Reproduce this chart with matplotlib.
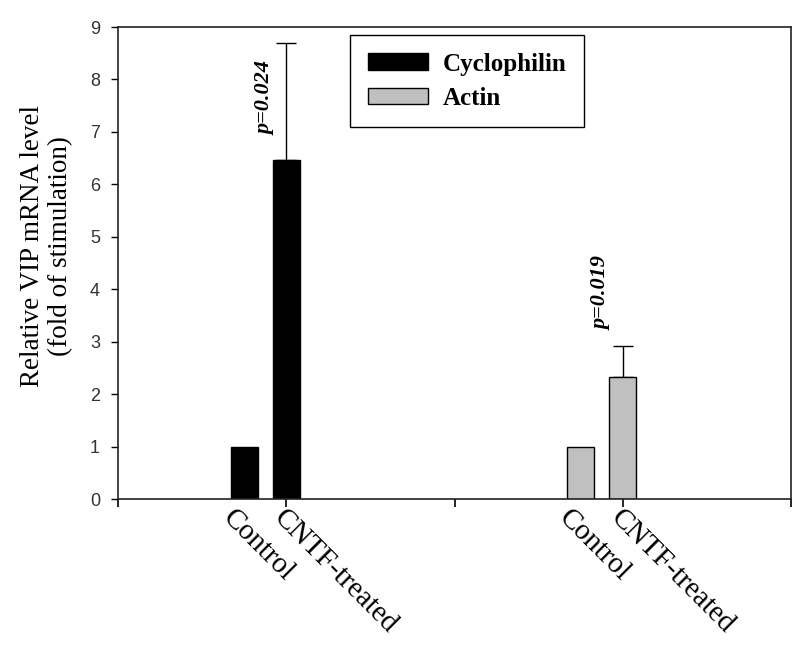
import matplotlib
matplotlib.use("Agg")
import matplotlib.pyplot as plt
from matplotlib.patches import Patch
import numpy as np

genes = ["Cyclophilin", "Actin"]
conditions = ["Control", "CNTF-treated"]
values = {"Cyclophilin": [1.0, 6.47], "Actin": [1.0, 2.33]}
errors = {"Cyclophilin": [0.0, 2.23], "Actin": [0.0, 0.59]}
pvalues = {"Cyclophilin": "p=0.024", "Actin": "p=0.019"}
pval_y = {"Cyclophilin": 6.95, "Actin": 3.22}
colors = {"Cyclophilin": "#000000", "Actin": "#c0c0c0"}
yticks = list(range(0, 10))

fig = plt.figure(figsize=(8.0, 6.46), dpi=100)
ax = fig.add_axes([118/800, (646-499)/646, (791-118)/800, (499-27)/646])

serif = "Liberation Serif"
offsets = [-0.125, 0.0]
width = 0.08
label_off = [-0.025, 0.003]

for gi, g in enumerate(genes):
    center = gi + 0.5
    for ci, c in enumerate(conditions):
        x = center + offsets[ci]
        err = errors[g][ci]
        ax.bar(x, values[g][ci], width=width, color=colors[g], edgecolor="black",
               linewidth=1.0, zorder=2)
        if err > 0:
            ax.errorbar(x, values[g][ci], yerr=[[0], [err]], fmt="none",
                        ecolor="black", elinewidth=1.0, capsize=7, capthick=1.0, zorder=1)
        ax.text(x + label_off[ci], -0.12, c, rotation=-45, rotation_mode="anchor",
                ha="left", va="top", fontsize=21, family=serif,
                transform=ax.transData, clip_on=False)
    ax.text(center - 0.062, pval_y[g], pvalues[g], rotation=90, ha="center", va="bottom",
            fontsize=16, family=serif, fontweight="bold", fontstyle="italic")

ax.set_xlim(0, 2)
ax.set_ylim(0, 9)
ax.set_yticks(yticks)
ax.set_yticklabels([str(t) for t in yticks], family="Liberation Sans", fontsize=13, color="#333333")
ax.set_xticks([0, 1, 2])
ax.set_xticklabels([])
ax.set_xticks([0.5, 1.5], minor=True)
ax.tick_params(axis="x", which="both", direction="out", length=6, width=1.2)
ax.tick_params(axis="y", direction="out", length=5, width=1.0, pad=8)
for s in ax.spines.values():
    s.set_linewidth(1.2)
    s.set_color("#222222")

ax.set_ylabel("Relative VIP mRNA level\n(fold of stimulation)", family=serif, fontsize=19.5,
              linespacing=1.2)
ax.yaxis.set_label_coords(-0.066, 0.535)

handles = [Patch(facecolor=colors[g], edgecolor="black", linewidth=1.0, label=g) for g in genes]
leg = ax.legend(handles=handles, loc="upper left", bbox_to_anchor=(0.345, 0.983),
                prop={"family": serif, "weight": "bold", "size": 18},
                frameon=True, fancybox=False, edgecolor="black", framealpha=1,
                handlelength=2.4, handleheight=0.65, handletextpad=0.6, borderpad=0.7,
                labelspacing=0.45, borderaxespad=0)
leg.get_frame().set_linewidth(1.0)

fig.savefig("out.png", dpi=100)
